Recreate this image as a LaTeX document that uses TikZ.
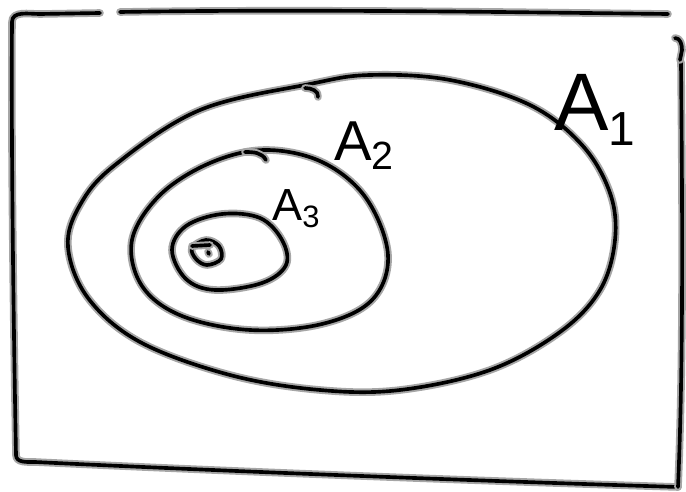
\documentclass[tikz,border=0pt]{standalone}
\usepackage{fontspec}
\setsansfont{Liberation Sans}
\usetikzlibrary{positioning}

\begin{document}
\begin{tikzpicture}[
    x=0.025cm, y=-0.025cm,
    strich/.style={draw=black, line width=2.6pt, line cap=round, line join=round,
                   preaction={draw=gray!70, line width=5.4pt, line cap=round, line join=round}},
    marke/.style={font=\sffamily\fontsize{#1}{#1}\selectfont, inner sep=0pt},
    marke/.default=40
]
\useasboundingbox (0,0) rectangle (686,492);

% Rahmen
\draw[strich] (100,13) -- (40,14) to[out=180,in=90] (12,22)
    .. controls (11,150) and (14,350) .. (16,455) to[out=270,in=180] (35,462)
    .. controls (200,470) and (450,480) .. (678,487);
\draw[strich] (120,12) .. controls (300,9) and (500,12) .. (668,14);
\draw[strich] (678,487) .. controls (684,350) and (682,180) .. (681,62);
\draw[strich] (675,38) to[out=0,in=90] (682,50) to[out=270,in=90] (680,60);

% A1
\draw[strich] plot[smooth cycle, tension=0.6] coordinates {
    (200,110) (310,84) (370,75) (450,80) (530,105) (582,145) (610,193)
    (615,240) (600,290) (560,332) (490,370) (400,390) (320,390) (230,375)
    (140,342) (88,298) (68,247) (80,205) (115,165)};
\draw[strich] (305,88) to[out=0,in=80] (318,97);

% A2
\draw[strich] plot[smooth cycle, tension=0.6] coordinates {
    (132,240) (160,195) (210,163) (265,150) (322,162) (366,198) (388,255)
    (372,300) (322,324) (250,330) (182,316) (142,286)};
\draw[strich] (245,152) to[out=0,in=120] (266,160);

% A3
\draw[strich] plot[smooth cycle, tension=0.6] coordinates {
    (172,250) (186,226) (222,214) (260,218) (282,240) (286,265) (262,283)
    (215,290) (186,279)};

% Punkt
\draw[strich] plot[smooth cycle, tension=0.6] coordinates {
    (192,248) (206,240) (219,246) (221,259) (207,265) (196,259)};
\draw[strich] (192,246) -- (210,245);
\draw[strich] (208,252) -- (209,254);

% Beschriftungen
\node[marke=58, anchor=south west] (labelA1) at (554,146) {A\raisebox{-0.35ex}{\fontsize{34}{34}\selectfont 1}};
\node[marke=40, anchor=south west] (labelA2) at (334,170) {A\raisebox{-0.3ex}{\fontsize{28}{28}\selectfont 2}};
\node[marke=32, anchor=south west] (labelA3) at (272,228) {A\raisebox{-0.3ex}{\fontsize{22}{22}\selectfont 3}};
\end{tikzpicture}
\end{document}
